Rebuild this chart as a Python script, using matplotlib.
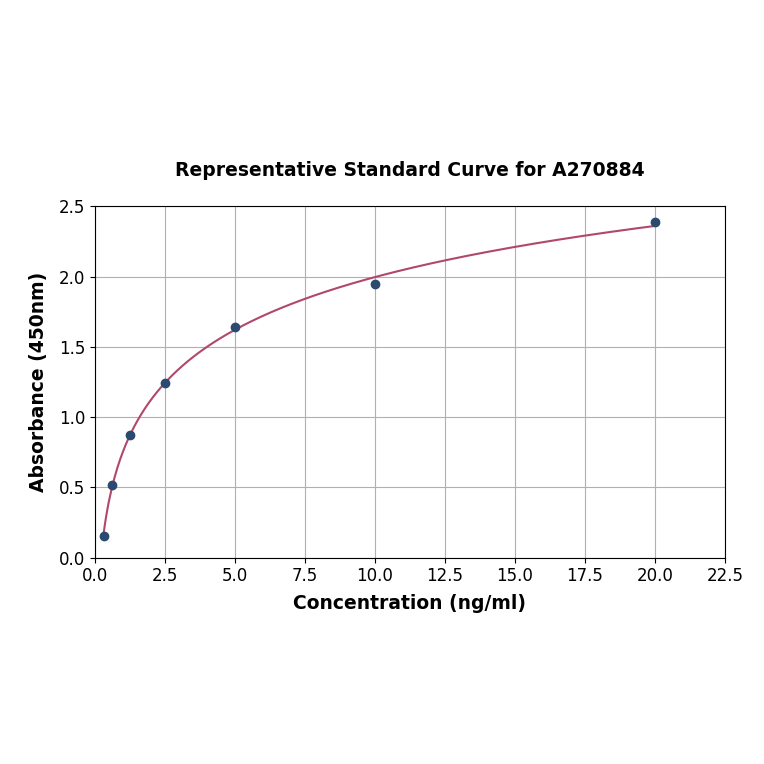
import numpy as np
import matplotlib
matplotlib.use("Agg")
import matplotlib.pyplot as plt

conc = [0.313, 0.625, 1.25, 2.5, 5, 10, 20]
absorb = [0.156, 0.518, 0.874, 1.243, 1.64, 1.946, 2.386]

x = np.array(conc)
y = np.array(absorb)

# 4PL fit: grid over b, c; a and d by linear least squares
best = None
for b in np.linspace(0.3, 2.0, 171):
    for c in np.exp(np.linspace(np.log(0.5), np.log(200), 300)):
        g = 1.0 / (1.0 + (x / c) ** b)
        A = np.column_stack([g, 1 - g])
        coef, res, _, _ = np.linalg.lstsq(A, y, rcond=None)
        err = np.sum((A @ coef - y) ** 2)
        if best is None or err < best[0]:
            best = (err, b, c, coef)
_, b, c, (a, d) = best

xf = np.linspace(x.min(), x.max(), 400)
yf = d + (a - d) / (1.0 + (xf / c) ** b)

fig = plt.figure(figsize=(7.64, 7.64), dpi=100)
ax = fig.add_axes([0.124, 0.270, 0.825, 0.460])
ax.plot(xf, yf, color="#b0486e", lw=1.5, zorder=2)
ax.scatter(x, y, s=36, color="#2b4a6f", zorder=3)

ax.set_xlim(0, 22.5)
ax.set_ylim(0, 2.5)
ax.set_xticks(np.arange(0, 22.6, 2.5))
ax.set_yticks(np.arange(0, 2.51, 0.5))
ax.grid(True, color="#b0b0b0", lw=0.8)
ax.set_axisbelow(True)
ax.tick_params(labelsize=12)
ax.set_xlabel("Concentration (ng/ml)", fontsize=13.5, fontweight="bold", labelpad=6)
ax.set_ylabel("Absorbance (450nm)", fontsize=13.5, fontweight="bold", labelpad=8)
ax.set_title("Representative Standard Curve for A270884", fontsize=13.5, fontweight="bold", pad=22)

fig.savefig("out.png", dpi=100)
